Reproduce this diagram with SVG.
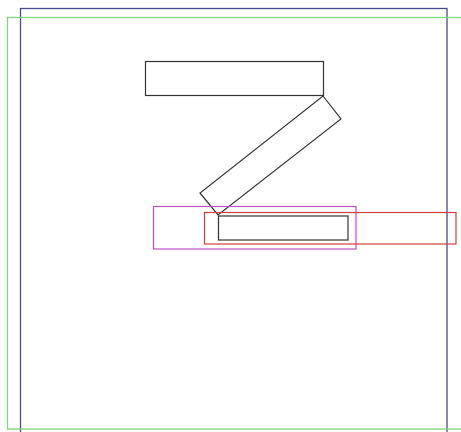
<svg xmlns="http://www.w3.org/2000/svg" width="461" height="432" viewBox="0 0 461 432">
<style>
.s{fill:none;stroke:#333;stroke-width:1.2}
</style>
<rect width="461" height="432" fill="#fff"/>
<g id="frame-blue"><rect x="20.5" y="8.5" width="426.5" height="430" fill="none" stroke="#4a4a8a" stroke-width="1.3"/></g>
<g id="frame-green"><rect x="7.5" y="17.5" width="470" height="411.5" fill="none" stroke="#7fd67f" stroke-width="1.3"/></g>
<g id="top-box"><rect class="s" x="145.5" y="61.5" width="178" height="34"/></g>
<g id="tilted-box"><polygon class="s" points="323,96 341,119 218,215 200,193"/></g>
<g id="magenta-box"><rect x="153.5" y="206.5" width="202.5" height="42.5" fill="none" stroke="#c050c8" stroke-width="1.2"/></g>
<g id="red-box"><rect x="204.5" y="212.5" width="251.5" height="31.5" fill="none" stroke="#d04040" stroke-width="1.2"/></g>
<g id="inner-box"><rect class="s" x="218.5" y="216" width="129.5" height="24"/></g>
<g id="connectors"></g>
</svg>
